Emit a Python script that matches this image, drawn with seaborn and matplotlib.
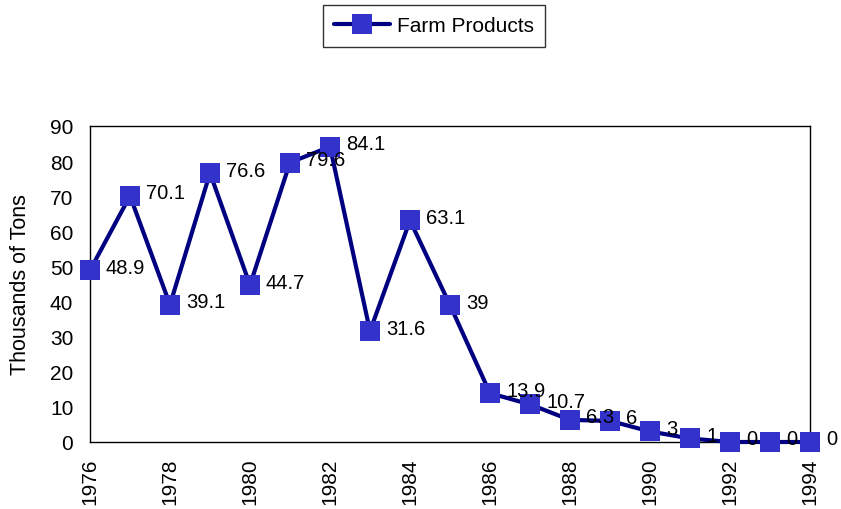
import numpy as np
import pandas as pd
import matplotlib
matplotlib.use("Agg")
import matplotlib.pyplot as plt
import seaborn as sns
from matplotlib.ticker import MultipleLocator

years = list(range(1976, 1995))
tons = [48.9, 70.1, 39.1, 76.6, 44.7, 79.6, 84.1, 31.6, 63.1, 39,
        13.9, 10.7, 6.3, 6, 3, 1, 0, 0, 0]
point_labels = ["48.9", "70.1", "39.1", "76.6", "44.7", "79.6", "84.1", "31.6",
                "63.1", "39", "13.9", "10.7", "6.3", "6", "3", "1", "0", "0", "0"]
series_name = "Farm Products"

sns.set_theme(style="white")
plt.rcParams["font.family"] = ["Liberation Sans", "DejaVu Sans"]
plt.rcParams.update({"text.color": "black", "axes.labelcolor": "black",
                     "xtick.color": "black", "ytick.color": "black"})

LINE = "#000080"
MARK = "#3333CC"

df = pd.DataFrame({"year": years, "tons": tons})

fig = plt.figure(figsize=(8.41, 5.10), dpi=100)
ax = fig.add_axes([90 / 841, 67 / 510, 720 / 841, 316 / 510])

sns.lineplot(data=df, x="year", y="tons", ax=ax, color=LINE, linewidth=3,
             marker="s", markersize=14, markerfacecolor=MARK, markeredgewidth=0,
             label=series_name, legend=False, clip_on=False, zorder=3)

for x, y, t in zip(years, tons, point_labels):
    ax.annotate(t, (x, y), xytext=(16, 3), textcoords="offset pixels",
                ha="left", va="center", fontsize=14.5, color="black", zorder=4)

ax.set_xlim(1976, 1994)
ax.set_ylim(0, 90)
ax.xaxis.set_major_locator(MultipleLocator(2))
ax.xaxis.set_minor_locator(MultipleLocator(1))
ax.yaxis.set_major_locator(MultipleLocator(10))
ax.tick_params(axis="x", which="both", direction="inout", length=8, width=1,
               color="black", labelcolor="black", labelsize=15, labelrotation=90, pad=7)
ax.tick_params(axis="y", which="major", direction="inout", length=8, width=1,
               color="black", labelcolor="black", labelsize=15, pad=8)
ax.set_xlabel("")
ax.set_ylabel("Thousands of Tons", fontsize=15.5, labelpad=14, color="black")
for s in ax.spines.values():
    s.set_color("black")
    s.set_linewidth(1)

handles, labels = ax.get_legend_handles_labels()
leg = fig.legend(handles, labels, loc="center", bbox_to_anchor=(434 / 841, 1 - 27 / 510),
                 frameon=True, fancybox=False, fontsize=15, handlelength=2.7,
                 handletextpad=0.3, borderpad=0.55, borderaxespad=0, edgecolor="black",
                 labelcolor="black")
leg.get_frame().set_linewidth(1)

fig.savefig("out.png", dpi=100)
